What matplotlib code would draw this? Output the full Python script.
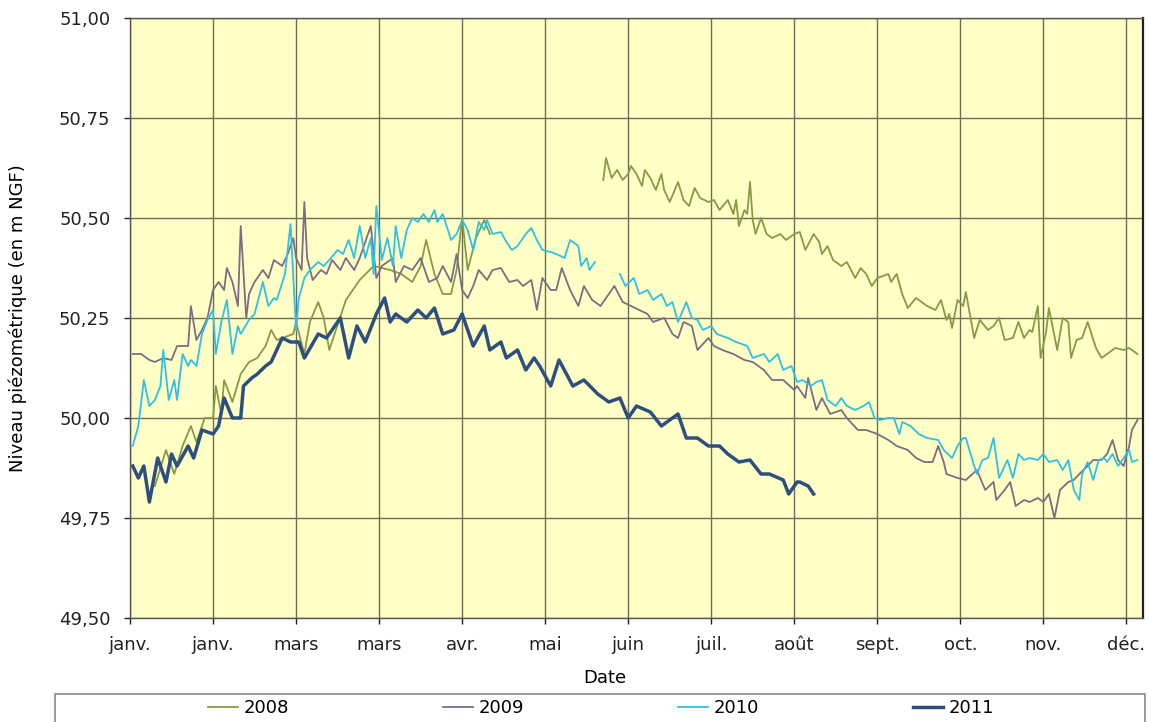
import matplotlib
matplotlib.use("Agg")
import matplotlib.pyplot as plt
import numpy as np
from matplotlib.ticker import FixedLocator, FuncFormatter
from matplotlib.patches import Rectangle

plt.rcParams['font.family'] = ['DejaVu Sans']

# ---- data (day of year, level in m NGF) ----
days_2008a = [9, 13, 16, 19, 22, 24, 27, 30, 31, 33, 34, 37, 40, 43, 46, 49, 51, 53, 59, 60, 63, 65, 68, 70, 72,
              78, 83, 88, 94, 98, 102, 105, 107, 110, 113, 116, 118, 120, 122, 125, 128, 130]
lvl_2008a = [49.83, 49.92, 49.86, 49.93, 49.98, 49.94, 50.00, 50.00, 50.08, 50.01, 50.095, 50.04, 50.11, 50.14, 50.15,
             50.18, 50.22, 50.195, 50.21, 50.24, 50.16, 50.24, 50.29, 50.25, 50.17,
             50.295, 50.345, 50.38, 50.37, 50.36, 50.34, 50.38, 50.445, 50.36, 50.31, 50.31, 50.37, 50.50, 50.37,
             50.45, 50.495, 50.46]
days_2008b = [171, 172, 174, 176, 178, 180, 181, 183, 185, 186, 188, 190, 192, 193, 195, 198, 200, 202, 204, 206,
              209, 211, 213, 216, 218, 219, 220, 222, 223, 224, 225, 226, 228, 230, 232, 235, 237, 240, 242, 244,
              247, 249, 250, 252, 254, 257, 259, 262, 264, 266, 268, 270, 274, 275, 277, 279, 281, 284, 286, 288,
              291, 293, 295, 296, 297, 299, 301, 302, 305, 307, 310, 312, 314, 316, 319, 321, 323, 325, 326, 328,
              329, 331, 332, 335, 337, 339, 340, 342, 344, 346, 349, 351, 353, 356, 359, 361, 364]
lvl_2008b = [50.595, 50.65, 50.60, 50.62, 50.595, 50.61, 50.63, 50.61, 50.58, 50.62, 50.60, 50.57, 50.61, 50.57,
             50.54, 50.59, 50.545, 50.53, 50.575, 50.55, 50.54, 50.545, 50.52, 50.545, 50.51, 50.545, 50.48,
             50.52, 50.51, 50.59, 50.495, 50.46, 50.50, 50.46, 50.45, 50.46, 50.445, 50.46, 50.465, 50.42, 50.46,
             50.44, 50.41, 50.43, 50.395, 50.38, 50.39, 50.35, 50.375, 50.36, 50.33, 50.35, 50.36, 50.34, 50.36,
             50.31, 50.275, 50.30, 50.29, 50.28, 50.27, 50.295, 50.245, 50.26, 50.225, 50.295, 50.28, 50.315,
             50.20, 50.245, 50.22, 50.23, 50.25, 50.195, 50.20, 50.24, 50.20, 50.22, 50.215, 50.28, 50.15,
             50.215, 50.275, 50.17, 50.25, 50.24, 50.15, 50.195, 50.20, 50.24, 50.175, 50.15, 50.16, 50.175,
             50.17, 50.175, 50.16]

days_2009 = [1, 4, 7, 9, 12, 15, 17, 21, 22, 24, 26, 28, 30, 32, 34, 35, 37, 39, 40, 42, 43, 45, 48, 50, 52, 55,
             57, 59, 60, 62, 63, 64, 66, 69, 71, 73, 76, 78, 81, 83, 87, 89, 91, 95, 96, 99, 102, 105, 108, 111,
             113, 116, 118, 120, 122, 124, 126, 129, 131, 134, 137, 140, 142, 145, 147, 149, 152, 154, 156, 159,
             162, 164, 167, 170, 172, 175, 178, 181, 184, 187, 189, 193, 196, 198, 200, 203, 205, 209, 211, 214,
             218, 222, 225, 229, 232, 236, 240, 241, 244, 245, 248, 250, 253, 257, 259, 263, 266, 270, 274, 277,
             281, 284, 287, 290, 292, 294, 295, 299, 302, 306, 309, 312, 313, 316, 318, 320, 323, 325, 328, 330,
             332, 334, 336, 339, 341, 343, 346, 348, 351, 353, 355, 357, 359, 361, 362, 364]
lvl_2009 = [50.16, 50.16, 50.145, 50.14, 50.15, 50.145, 50.18, 50.18, 50.28, 50.195, 50.22, 50.25, 50.32, 50.34,
            50.32, 50.375, 50.34, 50.28, 50.48, 50.25, 50.31, 50.34, 50.37, 50.35, 50.395, 50.38, 50.41, 50.45,
            50.40, 50.37, 50.54, 50.40, 50.345, 50.37, 50.36, 50.395, 50.37, 50.40, 50.37, 50.40, 50.48, 50.35,
            50.38, 50.40, 50.34, 50.38, 50.37, 50.40, 50.34, 50.35, 50.38, 50.34, 50.41, 50.32, 50.30, 50.33,
            50.37, 50.345, 50.37, 50.375, 50.34, 50.345, 50.33, 50.345, 50.27, 50.35, 50.32, 50.32, 50.375,
            50.32, 50.28, 50.33, 50.295, 50.28, 50.30, 50.33, 50.29, 50.28, 50.27, 50.26, 50.24, 50.25, 50.21,
            50.20, 50.24, 50.23, 50.17, 50.20, 50.18, 50.17, 50.16, 50.145, 50.14, 50.12, 50.095, 50.095, 50.07,
            50.08, 50.05, 50.10, 50.02, 50.05, 50.01, 50.02, 50.00, 49.97, 49.97, 49.96, 49.945, 49.93, 49.92,
            49.90, 49.89, 49.89, 49.93, 49.89, 49.86, 49.85, 49.845, 49.87, 49.82, 49.84, 49.795, 49.82, 49.84,
            49.78, 49.795, 49.79, 49.80, 49.79, 49.81, 49.75, 49.82, 49.84, 49.845, 49.86, 49.88, 49.895, 49.895,
            49.91, 49.945, 49.895, 49.88, 49.93, 49.97, 49.995]

days_2010a = [1, 3, 5, 7, 9, 11, 12, 14, 16, 17, 19, 21, 22, 24, 26, 28, 30, 31, 33, 35, 37, 39, 40, 43, 45, 48,
              50, 52, 53, 56, 58, 60, 61, 63, 65, 68, 70, 72, 75, 77, 79, 81, 83, 85, 87, 88, 89, 91, 93, 95, 96,
              98, 100, 102, 104, 106, 108, 110, 111, 113, 116, 118, 120, 122, 124, 126, 128, 129, 131, 134, 136,
              138, 140, 143, 145, 147, 149, 152, 154, 157, 159, 162, 163, 165, 166, 168]
lvl_2010a = [49.93, 49.98, 50.095, 50.03, 50.045, 50.08, 50.17, 50.045, 50.095, 50.045, 50.16, 50.13, 50.145,
             50.13, 50.21, 50.245, 50.27, 50.16, 50.24, 50.295, 50.16, 50.23, 50.21, 50.245, 50.26, 50.34, 50.28,
             50.30, 50.295, 50.36, 50.485, 50.22, 50.30, 50.35, 50.37, 50.39, 50.38, 50.395, 50.42, 50.41, 50.445,
             50.40, 50.48, 50.40, 50.45, 50.36, 50.53, 50.395, 50.45, 50.38, 50.48, 50.40, 50.47, 50.50, 50.49,
             50.51, 50.49, 50.52, 50.49, 50.51, 50.445, 50.46, 50.495, 50.47, 50.42, 50.49, 50.47, 50.495, 50.46,
             50.465, 50.44, 50.42, 50.43, 50.46, 50.475, 50.445, 50.42, 50.415, 50.41, 50.40, 50.445, 50.43,
             50.38, 50.40, 50.37, 50.39]
days_2010b = [177, 179, 182, 184, 187, 189, 192, 194, 196, 198, 201, 203, 205, 207, 210, 212, 216, 219, 223, 225,
              229, 231, 234, 236, 239, 241, 243, 246, 248, 250, 252, 255, 257, 259, 262, 265, 267, 269, 271, 274,
              276, 278, 279, 282, 285, 288, 292, 294, 297, 299, 301, 302, 305, 306, 308, 310, 312, 314, 316, 317,
              319, 321, 323, 325, 328, 330, 332, 335, 337, 339, 341, 343, 344, 346, 348, 350, 352, 353, 355, 357,
              359, 361, 362, 364]
lvl_2010b = [50.36, 50.33, 50.35, 50.31, 50.32, 50.295, 50.31, 50.28, 50.29, 50.24, 50.29, 50.25, 50.245, 50.22,
             50.23, 50.21, 50.20, 50.19, 50.18, 50.15, 50.16, 50.14, 50.16, 50.12, 50.13, 50.09, 50.095, 50.08,
             50.09, 50.095, 50.045, 50.03, 50.05, 50.03, 50.02, 50.03, 50.04, 50.00, 49.995, 50.00, 50.00, 49.96,
             49.99, 49.98, 49.96, 49.95, 49.945, 49.92, 49.90, 49.93, 49.95, 49.95, 49.88, 49.86, 49.895, 49.90,
             49.95, 49.85, 49.88, 49.895, 49.85, 49.91, 49.895, 49.90, 49.895, 49.91, 49.89, 49.895, 49.87, 49.895,
             49.82, 49.795, 49.86, 49.89, 49.845, 49.895, 49.90, 49.89, 49.91, 49.88, 49.90, 49.92, 49.89, 49.895]

days_2011 = [1, 3, 5, 7, 10, 13, 15, 17, 21, 23, 26, 30, 32, 34, 37, 40, 41, 44, 46, 49, 51, 55, 58, 61, 63, 68,
             71, 76, 79, 82, 85, 89, 92, 94, 96, 100, 104, 107, 110, 113, 117, 120, 124, 128, 130, 134, 136, 140,
             143, 146, 148, 152, 155, 160, 164, 169, 173, 177, 180, 183, 188, 192, 195, 198, 201, 205, 209, 213,
             216, 220, 224, 228, 231, 236, 238, 241, 242, 245, 247]
lvl_2011 = [49.88, 49.85, 49.88, 49.79, 49.90, 49.84, 49.91, 49.88, 49.93, 49.90, 49.97, 49.96, 49.98, 50.05,
            50.00, 50.00, 50.08, 50.10, 50.11, 50.13, 50.14, 50.20, 50.19, 50.19, 50.15, 50.21, 50.20, 50.25,
            50.15, 50.23, 50.19, 50.26, 50.30, 50.24, 50.26, 50.24, 50.27, 50.25, 50.275, 50.21, 50.22, 50.26,
            50.18, 50.23, 50.17, 50.19, 50.15, 50.17, 50.12, 50.15, 50.13, 50.08, 50.145, 50.08, 50.095, 50.06,
            50.04, 50.05, 50.00, 50.03, 50.015, 49.98, 49.995, 50.01, 49.95, 49.95, 49.93, 49.93, 49.91, 49.89,
            49.895, 49.86, 49.86, 49.845, 49.81, 49.84, 49.84, 49.83, 49.81]

tick_days = [0, 30, 60, 90, 120, 150, 180, 210, 240, 270, 300, 330, 360]
tick_labels = ["janv.", "janv.", "mars", "mars", "avr.", "mai", "juin", "juil.", "août", "sept.", "oct.",
               "nov.", "déc."]
y_ticks = [49.50, 49.75, 50.00, 50.25, 50.50, 50.75, 51.00]

col_2008 = "#879a45"
col_2009 = "#7e6c86"
col_2010 = "#2fc0e6"
col_2011 = "#2c4f80"

FS = 13
W, H = 1150, 722
fig = plt.figure(figsize=(W / 100, H / 100), dpi=100)
ax = fig.add_axes([130 / W, 1 - 618 / H, 1013 / W, 600 / H])
ax.set_facecolor("#ffffc6")

ax.plot(days_2008a, lvl_2008a, color=col_2008, lw=1.3, label="2008")
ax.plot(days_2008b, lvl_2008b, color=col_2008, lw=1.3)
ax.plot(days_2009, lvl_2009, color=col_2009, lw=1.3, label="2009")
ax.plot(days_2010a, lvl_2010a, color=col_2010, lw=1.3, label="2010")
ax.plot(days_2010b, lvl_2010b, color=col_2010, lw=1.3)
ax.plot(days_2011, lvl_2011, color=col_2011, lw=2.5, label="2011")

ax.set_xlim(0, 366)
ax.set_ylim(49.5, 51.0)
ax.xaxis.set_major_locator(FixedLocator(tick_days))
ax.set_xticklabels(tick_labels)
ax.yaxis.set_major_locator(FixedLocator(y_ticks))
ax.yaxis.set_major_formatter(FuncFormatter(lambda v, p: f"{v:.2f}".replace(".", ",")))
ax.grid(True, color="#6e6e58", lw=1.0)
ax.set_axisbelow(True)
for s in ax.spines.values():
    s.set_color("#555555")
    s.set_linewidth(1.0)
ax.spines['right'].set_color("#222222")
ax.spines['right'].set_linewidth(1.6)
ax.tick_params(axis='both', labelsize=FS, colors="#222222", length=4.5, width=1, direction='out')
ax.tick_params(axis='x', pad=8.5)
ax.tick_params(axis='y', pad=9.5)
ax.set_xlabel("Date", fontsize=FS)
ax.xaxis.set_label_coords(0.469, -0.085)
ax.set_ylabel("Niveau piézométrique (en m NGF)", fontsize=FS)
ax.yaxis.set_label_coords(-0.102, 0.5)

# legend box along the bottom of the figure
fig.patches.append(Rectangle((55 / W, -0.01), 1090 / W, 0.01 + 28 / H, transform=fig.transFigure,
                             facecolor="white", edgecolor="#888888", lw=1.2))
leg = fig.legend(loc="center", bbox_to_anchor=(601 / W, 1 - 708 / H), ncol=4, frameon=False,
                 fontsize=FS, handlelength=1.7, handletextpad=0.3, columnspacing=8.5, borderpad=0.1)

fig.savefig("out.png", dpi=100)
